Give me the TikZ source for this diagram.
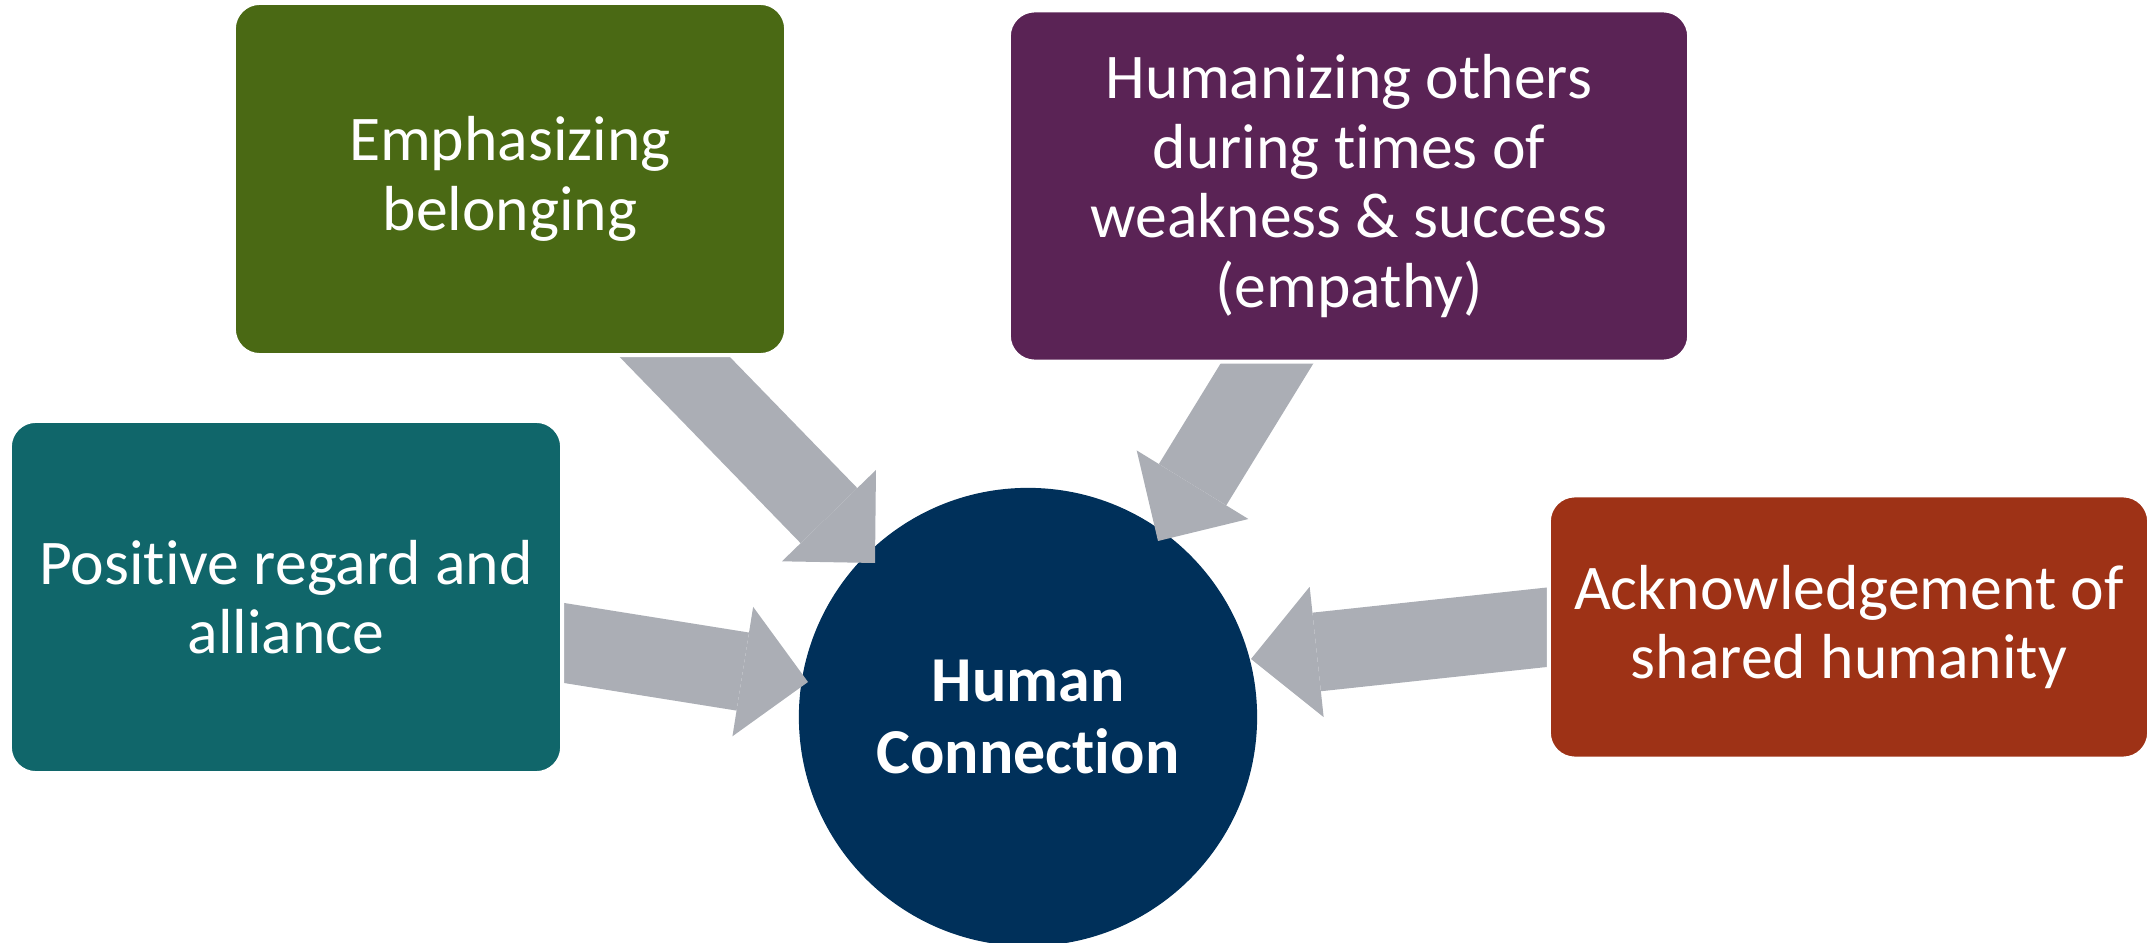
\documentclass[tikz,border=0pt]{standalone}
\usepackage{fontspec}
\setmainfont{Carlito}[Ligatures=NoCommon]
\usetikzlibrary{arrows.meta}

\definecolor{leafgreen}{HTML}{4A6914}
\definecolor{plum}{HTML}{5A2355}
\definecolor{deepteal}{HTML}{10666A}
\definecolor{rust}{HTML}{9E3216}
\definecolor{navy}{HTML}{00305A}
\definecolor{arrowgray}{HTML}{ABAEB5}

\pgfdeclarelayer{front}
\pgfsetlayers{main,front}

\begin{document}
\begin{tikzpicture}[x=0.01cm, y=-0.01cm,
		card/.style={rectangle, rounded corners=0.26cm, draw=white, line width=0.04cm, text=white, align=center, font=\fontsize{18.1}{19.8}\selectfont},
		hub/.style={circle, fill=navy, text=white, minimum size=4.58cm, align=center, font=\bfseries\fontsize{18.2}{20.2}\selectfont},
		bigarrow/.style={arrowgray, line width=0.79cm, -{Triangle[width=1.31cm, length=0.66cm, line width=0pt]}}]
		\useasboundingbox (0,0) rectangle (2156,943);

		\node [hub] (hc) at (1028,717) {Human\\Connection};

		\begin{pgfonlayer}{front}
		\node [card, fill=leafgreen, minimum width=5.52cm, minimum height=3.52cm] (emph) at (510,179) {Emphasizing\\belonging};
		\node [card, fill=plum, minimum width=6.80cm, minimum height=3.51cm] (human) at (1349,186) {Humanizing others\\during times of\\weakness \& success\\(empathy)};
		\node [card, fill=deepteal, minimum width=5.52cm, minimum height=3.52cm] (posit) at (286,597) {Positive regard and\\alliance};
		\node [card, fill=rust, minimum width=6.00cm, minimum height=2.63cm] (ackn) at (1849,627) {Acknowledgement of\\shared humanity};
		\end{pgfonlayer}

		\draw[bigarrow] ([shift={(126,-40)}]emph.south) -- ([shift={(-153,-154)}]hc.center);
		\draw[bigarrow] ([shift={(-52,-49)}]human.south) -- ([shift={(130,-176)}]hc.center);
		\draw[bigarrow] ([shift={(-50,38)}]posit.east) -- ([shift={(-220,-35)}]hc.center);
		\draw[bigarrow] ([shift={(49,-5)}]ackn.west) -- ([shift={(223,-58)}]hc.center);
	\end{tikzpicture}
\end{document}
